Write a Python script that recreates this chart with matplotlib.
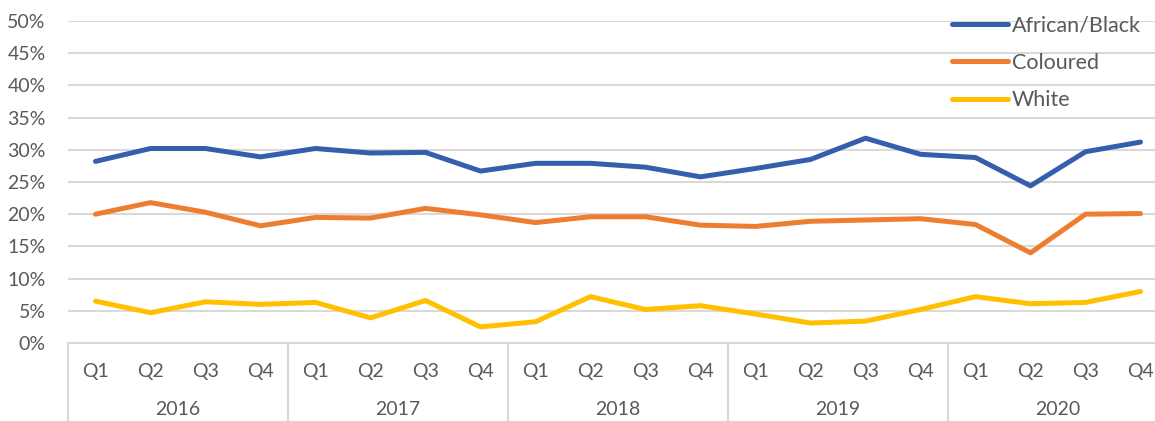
import matplotlib.pyplot as plt
import numpy as np

years = ['2016', '2017', '2018', '2019', '2020']
quarters = ['Q1', 'Q2', 'Q3', 'Q4']

african_black = [28.2, 30.2, 30.2, 28.9, 30.2, 29.5, 29.6, 26.7, 27.9, 27.9,
                 27.3, 25.8, 27.1, 28.5, 31.8, 29.3, 28.8, 24.4, 29.7, 31.2]
coloured = [20.0, 21.8, 20.3, 18.2, 19.5, 19.4, 20.9, 19.9, 18.7, 19.6,
            19.6, 18.3, 18.1, 18.9, 19.1, 19.3, 18.4, 14.0, 20.0, 20.1]
white = [6.5, 4.7, 6.4, 6.0, 6.3, 3.9, 6.6, 2.5, 3.3, 7.2,
         5.2, 5.8, 4.5, 3.1, 3.4, 5.2, 7.2, 6.1, 6.3, 8.0]

series = [('African/Black', african_black, '#355EAC'),
          ('Coloured', coloured, '#ED7D31'),
          ('White', white, '#FFC000')]

plt.rcParams['font.family'] = ['Lato', 'DejaVu Sans']
text_col = '#595959'
grid_col = '#d9d9d9'

fig = plt.figure(figsize=(11.55, 4.21), dpi=100)
ax = fig.add_axes([68 / 1155, 78 / 421, 1100 / 1155, 322 / 421])

x = np.arange(len(years) * len(quarters))
for name, vals, col in series:
    ax.plot(x, vals, color=col, lw=3.6, label=name, solid_capstyle='round',
            solid_joinstyle='round', zorder=3)

ax.set_xlim(-0.5, len(x) - 0.5)
ax.set_ylim(0, 50)
ax.set_yticks(np.arange(0, 51, 5))
ax.set_yticklabels([f'{v}%' for v in range(0, 51, 5)])
ax.yaxis.grid(True, color=grid_col, lw=1.5)
ax.set_axisbelow(True)
for s in ['top', 'right', 'left']:
    ax.spines[s].set_visible(False)
ax.spines['bottom'].set_color(grid_col)
ax.spines['bottom'].set_linewidth(1.5)
ax.tick_params(axis='y', length=0, pad=16, labelsize=14, labelcolor=text_col)
ax.set_xticks([])

# two-level category labels
trans = ax.get_xaxis_transform()
for i in x:
    ax.text(i, -0.09, quarters[i % 4], transform=trans, ha='center', va='center',
            fontsize=14, color=text_col)
for j, yr in enumerate(years):
    ax.text(j * 4 + 1.5, -0.208, yr, transform=trans, ha='center', va='center',
            fontsize=14, color=text_col)
for b in np.arange(-0.5, len(x), 4):
    ax.plot([b, b], [0, -0.245], transform=trans, color=grid_col, lw=1.5,
            clip_on=False)

leg = ax.legend(loc='upper left', bbox_to_anchor=(943 / 1155, 1 - 7 / 421),
                bbox_transform=fig.transFigure, frameon=False, fontsize=15.5,
                handlelength=2.6, handletextpad=0.2, labelspacing=0.8,
                borderaxespad=0)
for t in leg.get_texts():
    t.set_color(text_col)

fig.savefig('out.png', dpi=100)
